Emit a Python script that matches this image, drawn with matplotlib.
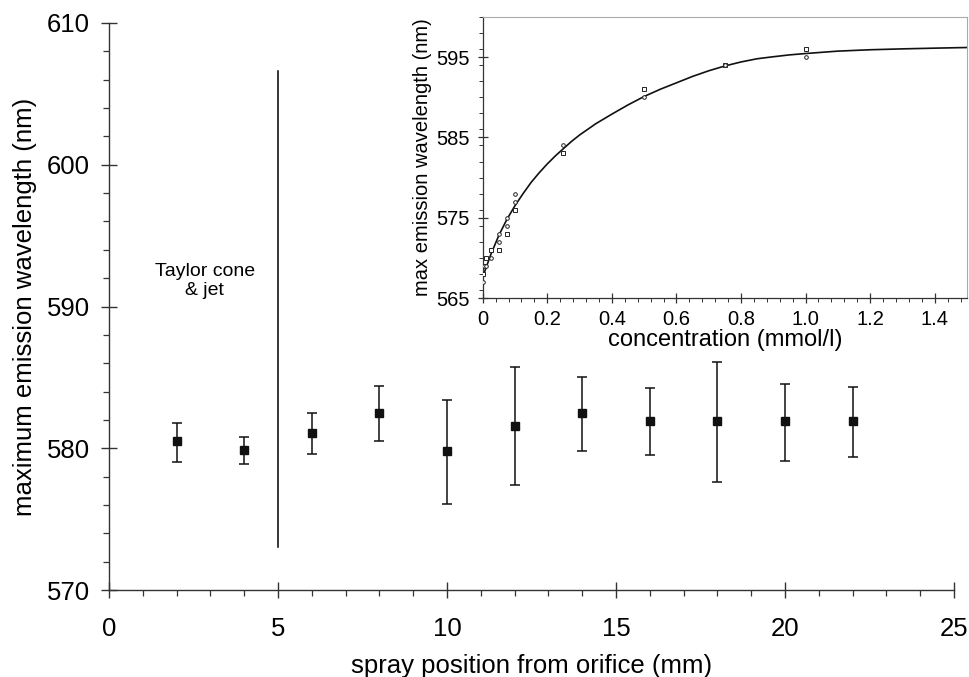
import matplotlib
matplotlib.use('Agg')
import numpy as np
import matplotlib.pyplot as plt
from matplotlib.ticker import MultipleLocator, FuncFormatter

plt.rcParams['font.family'] = ['Liberation Sans', 'DejaVu Sans']

# datos principales: posicion en el spray vs longitud de onda
posiciones = [2, 4, 6, 8, 10, 12, 14, 16, 18, 20, 22]
longitud_onda = [580.5, 579.9, 581.1, 582.5, 579.8, 581.6, 582.5, 581.9, 581.9, 581.9, 581.9]
err_inferior = [1.45, 1.0, 1.5, 2.0, 3.7, 4.2, 2.7, 2.4, 4.25, 2.8, 2.5]
err_superior = [1.3, 0.9, 1.4, 1.9, 3.6, 4.1, 2.55, 2.35, 4.15, 2.65, 2.45]

# limite cono de Taylor
x_limite = 5
y_limite = [573.0, 606.6]

# inset: concentracion vs longitud de onda
conc_cuadros = [0, 0.005, 0.01, 0.025, 0.05, 0.075, 0.1, 0.25, 0.5, 0.75, 1.0]
onda_cuadros = [568, 569, 570, 571, 571, 573, 576, 583, 591, 594, 596]
conc_circulos = [0, 0.005, 0.01, 0.025, 0.05, 0.05, 0.075, 0.075, 0.1, 0.1, 0.25, 0.5, 0.75, 1.0]
onda_circulos = [567, 569, 569, 570, 572, 573, 574, 575, 577, 578, 584, 590, 594, 595]
# curva de ajuste
conc_curva = [0, 0.025, 0.05, 0.075, 0.1, 0.125, 0.15, 0.175, 0.2, 0.225, 0.25, 0.275, 0.3,
              0.35, 0.4, 0.45, 0.5, 0.55, 0.6, 0.65, 0.7, 0.75, 0.8, 0.85, 0.9, 0.95, 1.0,
              1.1, 1.2, 1.3, 1.4, 1.5]
onda_curva = [567.6, 570.4, 572.8, 574.8, 576.5, 578.0, 579.4, 580.6, 581.7, 582.7, 583.6,
              584.5, 585.3, 586.7, 587.9, 589.05, 590.1, 591.0, 591.8, 592.6, 593.3, 593.9,
              594.4, 594.8, 595.05, 595.28, 595.45, 595.75, 595.92, 596.03, 596.12, 596.2]

fig = plt.figure(figsize=(9.7, 6.77), dpi=100)
fig.set_facecolor('white')

ax = fig.add_axes([109/970, 1-590/677, (954-109)/970, (590-23)/677])
yerr = np.array([err_inferior, err_superior])
ax.errorbar(posiciones, longitud_onda, yerr=yerr, fmt='s', color='#111111',
            ms=5.3, elinewidth=1.1, capsize=3.3, capthick=1.1, zorder=3)
ax.plot([x_limite, x_limite], y_limite, color='black', lw=1.1)
ax.text(2.83, 591.8, 'Taylor cone\n& jet', ha='center', va='center', fontsize=14,
        linespacing=1.1)

ax.set_xlim(0, 25)
ax.set_ylim(570, 610)
ax.xaxis.set_major_locator(MultipleLocator(5))
ax.xaxis.set_minor_locator(MultipleLocator(1))
ax.yaxis.set_major_locator(MultipleLocator(10))
ax.yaxis.set_minor_locator(MultipleLocator(2))
for lado in ['top', 'right']:
    ax.spines[lado].set_visible(False)
for lado in ['left', 'bottom']:
    ax.spines[lado].set_linewidth(1.0)
    ax.spines[lado].set_color('#333333')
ax.tick_params(which='major', direction='inout', length=11, width=1.0,
               labelsize=18.5, color='#333333')
ax.tick_params(axis='x', which='major', pad=14)
ax.tick_params(axis='y', which='major', pad=8)
ax.tick_params(which='minor', direction='out', length=4.3, width=0.9, color='#333333')
ax.set_xlabel('spray position from orifice (mm)', fontsize=18.5, labelpad=9.5)
ax.set_ylabel('maximum emission wavelength (nm)', fontsize=18.5, labelpad=7)

# inset
axi = fig.add_axes([482.7/970, 1-298/677, (967-482.7)/970, (298-17)/677])
axi.plot(conc_curva, onda_curva, color='#111111', lw=1.2, zorder=2)
axi.plot(conc_cuadros, onda_cuadros, 's', mfc='white', mec='#222222', ms=3, mew=0.7, zorder=3)
axi.plot(conc_circulos, onda_circulos, 'o', mfc='white', mec='#222222', ms=2.6, mew=0.7, zorder=3)
axi.set_xlim(0, 1.5)
axi.set_ylim(565, 600)
axi.xaxis.set_major_locator(MultipleLocator(0.2))
axi.xaxis.set_minor_locator(MultipleLocator(0.04))
axi.set_yticks([565, 575, 585, 595])
axi.yaxis.set_minor_locator(MultipleLocator(2))
axi.xaxis.set_major_formatter(FuncFormatter(
    lambda v, p: '0' if abs(v) < 1e-9 else f'{v:.1f}'))
for lado in ['top', 'right']:
    axi.spines[lado].set_color('#aaaaaa')
    axi.spines[lado].set_linewidth(0.8)
for lado in ['left', 'bottom']:
    axi.spines[lado].set_color('#333333')
    axi.spines[lado].set_linewidth(0.9)
axi.tick_params(which='major', direction='inout', length=7, width=0.9,
                labelsize=14.5, color='#333333', top=False, right=False)
axi.tick_params(axis='x', which='major', pad=5)
axi.tick_params(axis='y', which='major', pad=6)
axi.tick_params(which='minor', direction='out', length=3, width=0.7, color='#333333',
                top=False, right=False)
axi.set_xlabel('concentration (mmol/l)', fontsize=17, labelpad=0)
axi.set_ylabel('max emission wavelength (nm)', fontsize=14.5, labelpad=3)

plt.savefig('out.png', dpi=100, facecolor='white')
